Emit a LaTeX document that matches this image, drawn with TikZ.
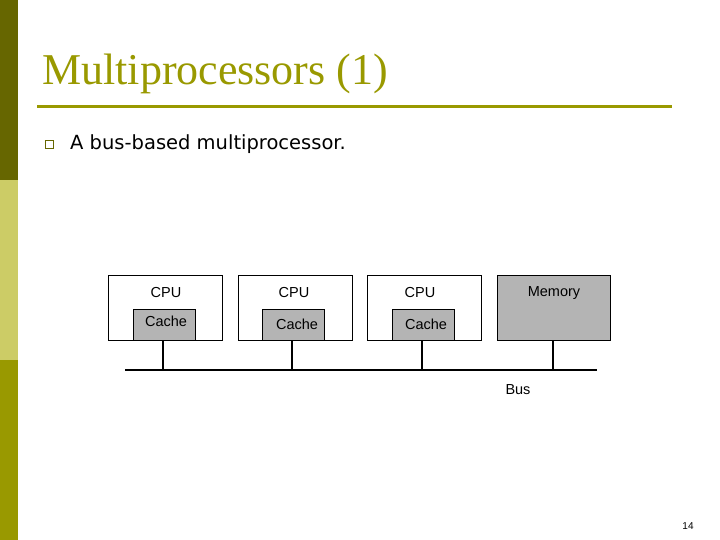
\documentclass[tikz,border=0pt]{standalone}
\usepackage{fontspec}
\setmainfont{Liberation Serif}
\newfontfamily\dv{DejaVu Sans}
\newfontfamily\ar{Liberation Sans}
\definecolor{oliveA}{HTML}{666600}
\definecolor{oliveB}{HTML}{CCCC66}
\definecolor{oliveC}{HTML}{999900}
\definecolor{boxgray}{HTML}{B4B4B4}
\begin{document}
\begin{tikzpicture}[x=1pt,y=-1pt,
  unit/.style={draw,line width=0.6pt,fill=white},
  graybox/.style={draw,line width=0.6pt,fill=boxgray},
  lbl/.style={font=\ar\fontsize{14.5}{16}\selectfont,inner sep=0pt},
  wire/.style={line width=1.8pt}]
\useasboundingbox (0,0) rectangle (720,540);
\fill[oliveA] (0,0) rectangle (18,180);
\fill[oliveB] (0,180) rectangle (18,360);
\fill[oliveC] (0,360) rectangle (18,540);
\node[anchor=west,text=oliveC,font=\fontsize{44}{48}\selectfont,inner sep=0pt] (title) at (42,74) {Multiprocessors (1)};
\draw[oliveC,line width=3pt] (37,107) -- (672,107);
\node[draw=oliveA,line width=1pt,minimum size=8pt,inner sep=0pt] (bul) at (49,145) {};
\node[anchor=west,font=\dv\fontsize{19.5}{22}\selectfont,inner sep=0pt] (txt) at (70,144) {A bus-based multiprocessor.};
% units
\node[unit,minimum width=114pt,minimum height=65pt,inner sep=0pt] (c1) at (165,307.5) {};
\node[unit,minimum width=114pt,minimum height=65pt,inner sep=0pt] (c2) at (295,307.5) {};
\node[unit,minimum width=114pt,minimum height=65pt,inner sep=0pt] (c3) at (424,307.5) {};
\node[graybox,minimum width=113pt,minimum height=65pt,inner sep=0pt] (mem) at (553.5,307.5) {};
\node[lbl] at (166,293) {CPU};
\node[lbl] at (294,293) {CPU};
\node[lbl] at (420,293) {CPU};
\node[lbl] at (554,293) {Memory};
\node[graybox,minimum width=62pt,minimum height=31pt,inner sep=0pt] (k1) at (164,324.5) {};
\node[graybox,minimum width=62pt,minimum height=31pt,inner sep=0pt] (k2) at (293,324.5) {};
\node[graybox,minimum width=62pt,minimum height=31pt,inner sep=0pt] (k3) at (423,324.5) {};
\node[lbl] at (166,321) {Cache};
\node[lbl] at (297,324) {Cache};
\node[lbl] at (426,324) {Cache};
\coordinate (b0) at (125,370);
\coordinate (b1) at (597,370);
\draw[wire] (b0) -- (b1);
\draw[wire] (163,340) -- (163,370);
\draw[wire] (292,340) -- (292,370);
\draw[wire] (422,340) -- (422,370);
\draw[wire] (553,340) -- (553,370);
\node[lbl] (bus) at (518,390) {Bus};
\node[font=\ar\fontsize{10}{11}\selectfont,inner sep=0pt] (pg) at (688,526) {14};
\end{tikzpicture}
\end{document}
